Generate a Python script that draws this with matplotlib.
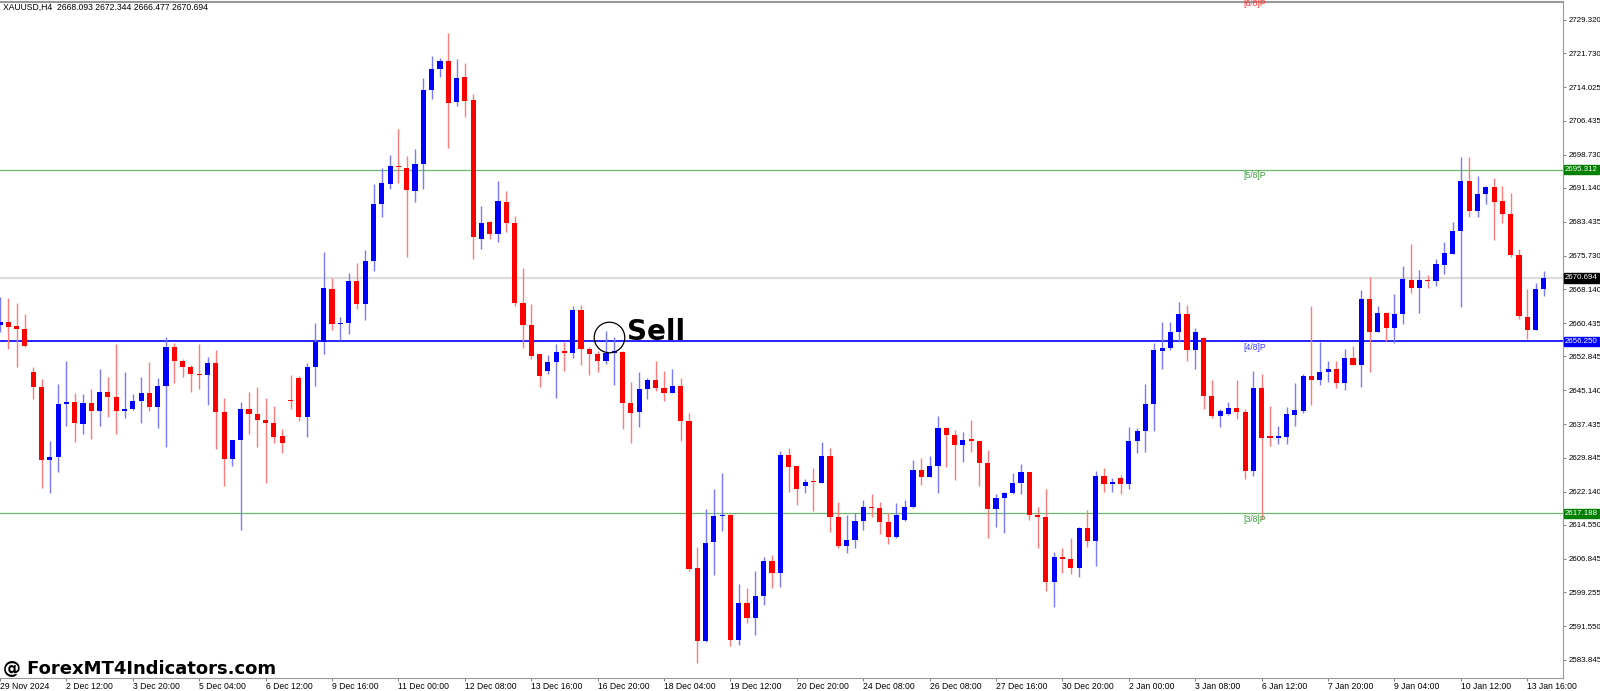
import matplotlib
matplotlib.use("Agg")
import matplotlib.pyplot as plt
import numpy as np

# XAUUSD H4 candles, 29 Nov 2024 .. 13 Jan 2025
opens = [
    2660.1, 2660.75, 2659.8, 2659.0, 2649.2, 2645.8, 2629.3, 2629.9, 2641.95, 2642.4,
    2637.5, 2642.3, 2640.5, 2644.7, 2643.7, 2640.4, 2641.0, 2642.8, 2644.5, 2641.4,
    2646.2, 2655.1, 2651.7, 2650.4, 2648.9, 2648.6, 2651.4, 2640.3, 2629.6, 2633.8,
    2640.9, 2639.7, 2638.5, 2637.6, 2634.7, 2642.9, 2647.85, 2639.0, 2650.5, 2656.2,
    2668.2, 2660.2, 2660.5, 2670.0, 2664.7, 2674.5, 2687.4, 2692.05, 2696.1, 2695.75,
    2690.5, 2696.6, 2713.4, 2718.2, 2720.1, 2710.6, 2716.3, 2711.1, 2679.5, 2683.3,
    2680.7, 2688.0, 2683.1, 2664.9, 2660.0, 2653.3, 2649.5, 2651.5, 2653.9, 2653.7,
    2663.5, 2654.5, 2653.4, 2651.9, 2653.6, 2653.8, 2642.2, 2640.3, 2645.5, 2647.5,
    2645.75, 2644.6, 2646.1, 2638.2, 2604.7, 2588.2, 2610.6, 2616.5, 2616.8, 2588.4,
    2596.9, 2593.5, 2598.4, 2606.4, 2603.7, 2630.4, 2627.9, 2623.4, 2624.5, 2624.0,
    2630.2, 2616.3, 2609.8, 2611.1, 2615.5, 2618.7, 2618.5, 2615.1, 2611.7, 2615.7,
    2618.7, 2627.0, 2625.4, 2627.9, 2636.6, 2635.0, 2632.7, 2633.9, 2633.7, 2628.7,
    2618.1, 2620.6, 2621.9, 2624.0, 2626.65, 2616.8, 2616.3, 2601.6, 2607.2, 2606.7,
    2604.7, 2613.8, 2611.0, 2625.7, 2623.8, 2625.1, 2623.8, 2633.7, 2636.0, 2642.0,
    2654.1, 2654.7, 2658.5, 2662.4, 2654.2, 2657.1, 2643.9, 2639.4, 2639.7, 2641.2,
    2640.3, 2626.9, 2645.7, 2634.6, 2634.4, 2634.6, 2639.5, 2640.4, 2648.4, 2647.6,
    2649.4, 2649.9, 2646.7, 2652.6, 2650.9, 2665.9, 2658.5, 2662.65, 2659.4, 2662.5,
    2670.2, 2668.3, 2670.2, 2670.0, 2673.6, 2676.1, 2681.4, 2692.7, 2685.9, 2689.8,
    2691.3, 2688.2, 2685.2, 2675.9, 2661.9, 2658.8, 2668.093,
]
highs = [
    2666.4, 2666.1, 2665.1, 2662.4, 2650.4, 2647.7, 2633.7, 2646.5, 2651.9, 2644.5,
    2644.3, 2645.4, 2650.1, 2648.2, 2655.7, 2649.2, 2644.3, 2648.1, 2651.5, 2647.9,
    2657.2, 2655.8, 2652.2, 2650.9, 2655.7, 2652.8, 2654.4, 2643.5, 2633.8, 2642.6,
    2644.7, 2645.8, 2643.5, 2641.6, 2636.3, 2648.6, 2648.4, 2651.4, 2660.5, 2676.5,
    2670.6, 2661.7, 2671.9, 2674.0, 2677.0, 2692.0, 2695.6, 2698.6, 2704.5, 2698.4,
    2699.9, 2716.1, 2721.2, 2720.6, 2726.4, 2720.5, 2719.5, 2712.5, 2687.0, 2683.7,
    2692.8, 2690.5, 2684.8, 2672.9, 2664.8, 2653.5, 2653.2, 2655.6, 2656.2, 2664.3,
    2664.5, 2655.0, 2654.0, 2658.7, 2657.2, 2654.0, 2646.96, 2649.2, 2647.9, 2651.8,
    2649.6, 2649.9, 2647.9, 2639.9, 2609.5, 2618.1, 2622.6, 2626.4, 2616.95, 2601.1,
    2600.3, 2604.1, 2607.3, 2607.7, 2631.4, 2631.96, 2627.9, 2625.0, 2627.4, 2633.3,
    2632.1, 2619.8, 2616.8, 2617.2, 2620.1, 2621.5, 2619.8, 2617.3, 2619.5, 2620.2,
    2629.3, 2629.8, 2630.1, 2639.3, 2636.9, 2636.1, 2635.6, 2638.4, 2633.7, 2631.6,
    2621.6, 2622.1, 2626.3, 2628.3, 2626.65, 2618.7, 2622.6, 2608.5, 2609.4, 2611.5,
    2614.0, 2617.9, 2626.8, 2627.4, 2625.1, 2625.9, 2636.7, 2636.5, 2646.5, 2655.98,
    2660.6, 2660.6, 2665.3, 2664.5, 2659.4, 2657.3, 2647.6, 2640.8, 2642.6, 2647.5,
    2640.8, 2649.6, 2648.9, 2641.6, 2637.1, 2641.4, 2646.9, 2648.9, 2664.4, 2656.2,
    2651.7, 2651.7, 2654.5, 2655.2, 2667.95, 2671.0, 2664.2, 2662.9, 2667.0, 2673.4,
    2678.5, 2672.6, 2671.3, 2674.9, 2678.9, 2683.3, 2698.2, 2698.2, 2693.9, 2691.6,
    2693.5, 2691.6, 2689.9, 2677.2, 2668.1, 2669.6, 2672.344,
]
lows = [
    2658.5, 2654.5, 2650.5, 2655.0, 2643.1, 2622.9, 2621.9, 2626.5, 2637.1, 2633.5,
    2635.2, 2634.0, 2637.1, 2639.1, 2635.1, 2638.9, 2640.7, 2637.6, 2640.4, 2636.6,
    2632.3, 2646.9, 2648.1, 2644.7, 2645.4, 2641.8, 2631.7, 2623.4, 2627.9, 2613.4,
    2635.3, 2632.3, 2624.0, 2633.1, 2631.0, 2641.0, 2638.2, 2634.6, 2646.1, 2653.4,
    2658.8, 2656.6, 2657.9, 2663.6, 2661.1, 2672.3, 2684.6, 2690.9, 2692.3, 2675.5,
    2687.9, 2690.8, 2711.3, 2716.3, 2700.3, 2709.8, 2707.3, 2675.1, 2677.3, 2679.5,
    2678.9, 2681.2, 2664.3, 2654.7, 2652.2, 2646.0, 2648.8, 2643.5, 2649.5, 2652.4,
    2650.9, 2648.6, 2649.4, 2651.1, 2646.4, 2636.3, 2633.1, 2636.7, 2643.1, 2645.1,
    2642.8, 2644.6, 2633.7, 2604.1, 2583.2, 2588.0, 2603.2, 2613.2, 2587.0, 2587.2,
    2592.2, 2589.5, 2596.3, 2600.1, 2600.4, 2622.1, 2619.1, 2621.7, 2617.6, 2624.0,
    2612.9, 2609.2, 2608.1, 2609.2, 2613.5, 2616.4, 2612.4, 2610.1, 2611.5, 2615.5,
    2618.3, 2623.6, 2625.4, 2621.7, 2627.8, 2624.8, 2628.9, 2631.2, 2623.4, 2611.5,
    2614.0, 2612.6, 2621.6, 2621.6, 2615.7, 2609.2, 2599.6, 2595.95, 2603.7, 2603.5,
    2602.6, 2609.6, 2605.2, 2622.1, 2622.1, 2621.6, 2622.6, 2631.0, 2631.2, 2636.0,
    2650.0, 2654.2, 2656.2, 2651.9, 2649.9, 2641.0, 2638.8, 2636.7, 2639.5, 2638.6,
    2625.0, 2625.7, 2616.0, 2632.5, 2632.9, 2632.9, 2637.0, 2640.1, 2641.8, 2646.4,
    2647.1, 2645.6, 2645.2, 2650.9, 2645.8, 2649.4, 2658.5, 2656.4, 2655.8, 2660.3,
    2667.2, 2662.8, 2668.5, 2668.9, 2671.6, 2676.1, 2664.1, 2684.6, 2684.6, 2687.6,
    2679.3, 2683.2, 2675.5, 2661.3, 2656.7, 2658.8, 2666.477,
]
closes = [
    2660.6, 2659.6, 2659.0, 2655.2, 2645.8, 2629.3, 2629.9, 2642.0, 2642.4, 2637.6,
    2642.3, 2640.5, 2644.7, 2643.7, 2640.5, 2641.0, 2642.8, 2644.5, 2641.4, 2646.2,
    2655.1, 2651.7, 2650.4, 2648.9, 2648.6, 2651.4, 2640.3, 2629.6, 2633.8, 2640.9,
    2639.7, 2638.5, 2637.6, 2634.6, 2633.1, 2642.7, 2639.0, 2650.5, 2656.2, 2668.3,
    2660.2, 2660.5, 2670.0, 2664.7, 2674.5, 2687.6, 2692.2, 2696.1, 2695.8, 2690.7,
    2696.6, 2713.4, 2718.1, 2720.0, 2710.5, 2716.2, 2711.0, 2679.9, 2683.2, 2680.7,
    2688.2, 2683.2, 2664.9, 2660.0, 2653.0, 2648.4, 2651.5, 2653.9, 2653.7, 2663.5,
    2654.5, 2653.4, 2651.9, 2653.6, 2654.0, 2642.2, 2640.1, 2645.5, 2647.5, 2645.6,
    2644.6, 2646.2, 2638.2, 2604.5, 2588.2, 2610.4, 2616.6, 2616.8, 2588.4, 2596.9,
    2593.5, 2598.4, 2606.4, 2603.7, 2630.4, 2627.8, 2622.7, 2624.4, 2624.2, 2630.2,
    2616.3, 2609.8, 2611.1, 2615.5, 2618.7, 2618.4, 2615.1, 2611.7, 2616.7, 2618.7,
    2627.0, 2625.4, 2627.9, 2636.5, 2635.0, 2632.7, 2633.9, 2633.7, 2628.7, 2618.1,
    2620.6, 2621.7, 2624.0, 2626.65, 2616.8, 2616.3, 2601.6, 2607.2, 2606.7, 2604.7,
    2613.8, 2610.96, 2625.7, 2623.9, 2624.4, 2623.8, 2633.7, 2636.0, 2642.0, 2654.3,
    2654.8, 2658.5, 2662.4, 2654.2, 2658.5, 2643.9, 2639.4, 2640.4, 2641.2, 2640.3,
    2626.9, 2645.7, 2634.4, 2634.4, 2634.8, 2639.7, 2640.7, 2648.5, 2647.6, 2649.4,
    2649.9, 2646.7, 2652.6, 2650.9, 2665.9, 2658.5, 2662.65, 2659.4, 2662.6, 2670.35,
    2668.3, 2670.2, 2670.0, 2673.8, 2676.3, 2681.4, 2692.7, 2685.9, 2689.7, 2691.3,
    2688.0, 2685.2, 2675.9, 2662.0, 2658.8, 2668.1, 2670.694,
]

time_labels = [
    "29 Nov 2024", "2 Dec 12:00", "3 Dec 20:00", "5 Dec 04:00", "6 Dec 12:00",
    "9 Dec 16:00", "11 Dec 00:00", "12 Dec 08:00", "13 Dec 16:00", "16 Dec 20:00",
    "18 Dec 04:00", "19 Dec 12:00", "20 Dec 20:00", "24 Dec 08:00", "26 Dec 08:00",
    "27 Dec 16:00", "30 Dec 20:00", "2 Jan 00:00", "3 Jan 08:00", "6 Jan 12:00",
    "7 Jan 20:00", "9 Jan 04:00", "10 Jan 12:00", "13 Jan 16:00",
]
price_ticks = [
    2729.320, 2721.730, 2714.025, 2706.435, 2698.730, 2691.140, 2683.435,
    2675.730, 2668.140, 2660.435, 2652.845, 2645.140, 2637.435, 2629.845,
    2622.140, 2614.550, 2606.845, 2599.255, 2591.550, 2583.845,
]

# Murrey-style levels
level_prices = [2734.375, 2695.312, 2656.250, 2617.188]
level_names = ["[6/8]P", "[5/8]P", "[4/8]P", "[3/8]P"]
bid = 2670.694
header = "XAUUSD,H4  2668.093 2672.344 2666.477 2670.694"

SMALL = dict(family="Liberation Sans", fontsize=6.2)
AXIS = dict(family="Liberation Sans", fontsize=5.7)

W, H = 1600, 691
fig = plt.figure(figsize=(W / 100, H / 100), dpi=100)
ax = fig.add_axes([0, 1 - 678 / H, 1563 / W, 676 / H])

o = np.array(opens)
h = np.array(highs)
l = np.array(lows)
c = np.array(closes)
idx = np.arange(len(o))
up = c >= o

body_col = np.where(up, "#0000ff", "#ff0000")
wick_col = np.where(up, "#7a7aff", "#ff7a7a")

ax.vlines(idx, l, h, colors=wick_col, linewidth=1.0, zorder=3)
bottom = np.minimum(o, c)
height = np.maximum(np.abs(c - o), 0.3)
ax.bar(idx, height, bottom=bottom, width=0.62, color=body_col,
       linewidth=0, zorder=4)

# horizontal lines
ax.axhline(bid, color="#dcdcdc", linewidth=1.6, zorder=1)
ax.axhline(level_prices[1], color="#6ab86a", linewidth=0.9, zorder=2)
ax.axhline(level_prices[3], color="#6ab86a", linewidth=0.9, zorder=2)
ax.axhline(level_prices[2], color="#0000ff", linewidth=1.2, zorder=2)

level_cols = ["#ff3030", "#3a9a3a", "#3a3aff", "#3a9a3a"]
for p, name, col in zip(level_prices, level_names, level_cols):
    ax.text(149.8, p - 0.3, name, color=col, va="top", ha="left",
            zorder=5, **SMALL)

ax.set_xlim(0, 188.3)
ax.set_ylim(2579.75, 2733.41)

# right price axis
ax.yaxis.tick_right()
ax.set_yticks(price_ticks)
ax.set_yticklabels([f"{v:.3f}" for v in price_ticks], **AXIS)
ax.tick_params(axis="y", length=2.5, width=0.7, color="#808080", pad=1.5)

# time axis
ax.set_xticks(np.arange(len(time_labels)) * 8)
ax.set_xticklabels(time_labels, ha="left", **SMALL)
ax.tick_params(axis="x", length=2.5, width=0.7, color="#808080", pad=0.5)

ax.spines["left"].set_visible(False)
for side in ["right", "bottom", "top"]:
    ax.spines[side].set_color("#999999")
ax.spines["top"].set_linewidth(1.5)

# boxed values on the price axis
boxes = [(level_prices[1], "#008000"), (bid, "#000000"),
         (level_prices[2], "#0000ff"), (level_prices[3], "#008000")]
for p, col in boxes:
    ax.annotate(f"{p:.3f}", xy=(1.0, p), xycoords=("axes fraction", "data"),
                xytext=(1.5, 0), textcoords="offset points", va="center",
                ha="left", color="white", annotation_clip=False, zorder=6,
                bbox=dict(boxstyle="square,pad=0.15", fc=col, ec=col),
                **AXIS)

# sell signal
ax.plot([73.35], [2657.2], marker="o", markersize=22, mfc="none",
        mec="black", mew=0.9, zorder=6)
ax.text(75.5, 2656.6, "Sell", fontsize=20, fontweight="heavy",
        family="DejaVu Sans", va="baseline", ha="left", zorder=6)

fig.text(3 / W, 1 - 3 / H, header, va="top", ha="left", **SMALL)
fig.text(3 / W, 1 - 674 / H, "@ ForexMT4Indicators.com", fontsize=13,
         fontweight="heavy", family="DejaVu Sans", va="baseline", ha="left")

fig.savefig("out.png", dpi=100)
